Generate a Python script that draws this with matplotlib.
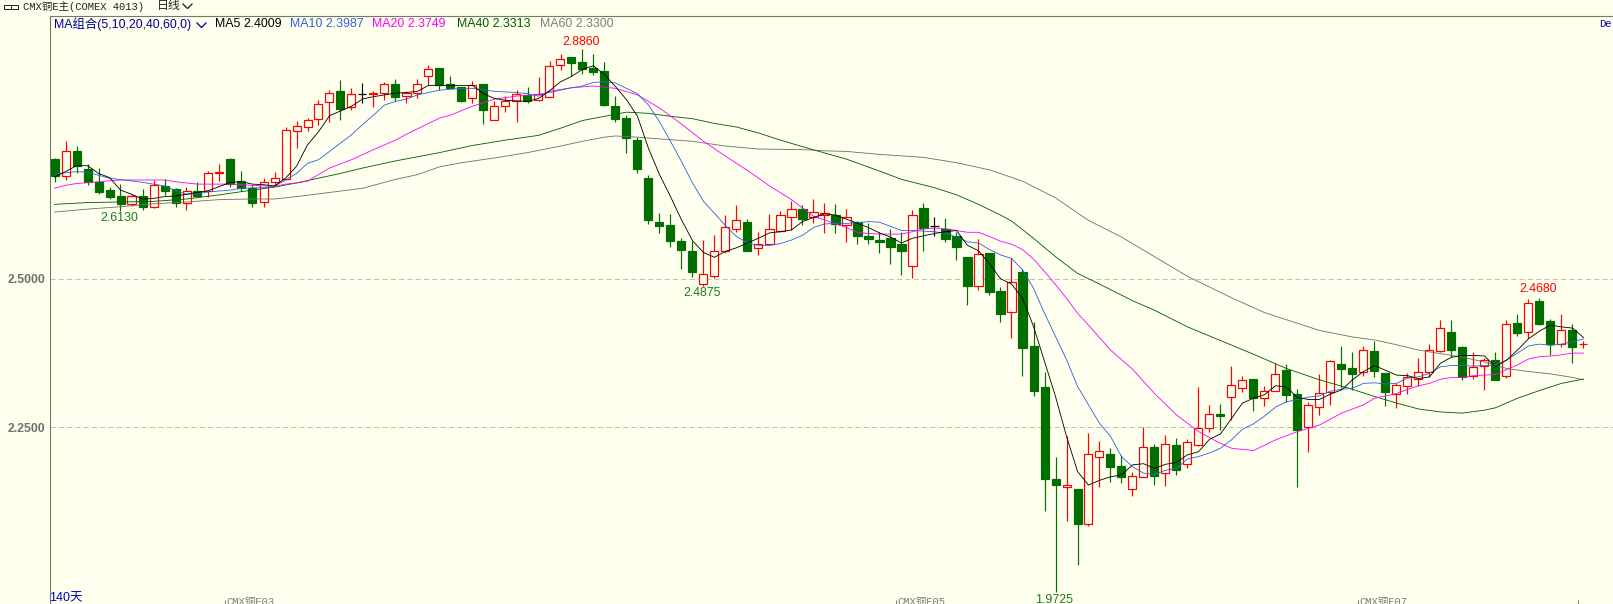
#!/usr/bin/env python3
# -*- coding: utf-8 -*-
import numpy as np
import matplotlib
matplotlib.use('Agg')
import matplotlib.pyplot as plt
from matplotlib.lines import Line2D
from matplotlib.patches import Rectangle

# daily candles, 140 days
open_p = [2.701, 2.672, 2.715, 2.685, 2.663, 2.649, 2.639, 2.626, 2.639, 2.621,
          2.656, 2.650, 2.627, 2.647, 2.647, 2.677, 2.701, 2.664, 2.652, 2.629,
          2.663, 2.667, 2.748, 2.755, 2.768, 2.797, 2.816, 2.788, 2.811, 2.811,
          2.813, 2.827, 2.808, 2.812, 2.840, 2.854, 2.827, 2.822, 2.804, 2.827,
          2.766, 2.791, 2.798, 2.809, 2.801, 2.806, 2.859, 2.873, 2.864, 2.854,
          2.849, 2.790, 2.770, 2.733, 2.670, 2.596, 2.591, 2.564, 2.547, 2.491,
          2.505, 2.547, 2.583, 2.596, 2.551, 2.558, 2.581, 2.603, 2.617, 2.604,
          2.607, 2.607, 2.591, 2.595, 2.572, 2.565, 2.568, 2.558, 2.522, 2.619,
          2.588, 2.584, 2.572, 2.537, 2.487, 2.543, 2.479, 2.444, 2.511, 2.387,
          2.318, 2.164, 2.150, 2.147, 2.087, 2.200, 2.205, 2.185, 2.146, 2.166,
          2.217, 2.173, 2.220, 2.188, 2.220, 2.249, 2.272, 2.301, 2.316, 2.332,
          2.299, 2.312, 2.347, 2.306, 2.251, 2.285, 2.309, 2.357, 2.350, 2.343,
          2.379, 2.342, 2.306, 2.320, 2.332, 2.343, 2.379, 2.410, 2.385, 2.336,
          2.354, 2.363, 2.337, 2.426, 2.411, 2.463, 2.429, 2.391, 2.414, 2.390]
close_p = [2.673, 2.714, 2.689, 2.663, 2.646, 2.638, 2.625, 2.639, 2.621, 2.657,
           2.648, 2.628, 2.647, 2.639, 2.677, 2.680, 2.660, 2.653, 2.628, 2.662,
           2.669, 2.750, 2.756, 2.766, 2.793, 2.812, 2.786, 2.810, 2.811, 2.812,
           2.827, 2.806, 2.812, 2.827, 2.852, 2.825, 2.821, 2.799, 2.825, 2.783,
           2.791, 2.798, 2.811, 2.798, 2.811, 2.857, 2.869, 2.863, 2.853, 2.848,
           2.792, 2.769, 2.736, 2.685, 2.598, 2.589, 2.563, 2.549, 2.512, 2.508,
           2.546, 2.587, 2.598, 2.547, 2.558, 2.583, 2.607, 2.617, 2.600, 2.612,
           2.610, 2.592, 2.603, 2.571, 2.566, 2.562, 2.554, 2.546, 2.607, 2.586,
           2.588, 2.567, 2.554, 2.487, 2.541, 2.478, 2.441, 2.494, 2.384, 2.312,
           2.163, 2.154, 2.153, 2.087, 2.205, 2.210, 2.183, 2.167, 2.168, 2.217,
           2.169, 2.222, 2.178, 2.225, 2.249, 2.272, 2.270, 2.321, 2.329, 2.300,
           2.311, 2.339, 2.305, 2.246, 2.287, 2.307, 2.361, 2.349, 2.340, 2.380,
           2.344, 2.310, 2.321, 2.335, 2.343, 2.380, 2.417, 2.380, 2.334, 2.352,
           2.363, 2.330, 2.423, 2.409, 2.459, 2.424, 2.391, 2.413, 2.386, 2.391]
high_p = [2.703, 2.732, 2.723, 2.693, 2.686, 2.654, 2.659, 2.643, 2.650, 2.666,
          2.667, 2.652, 2.654, 2.663, 2.681, 2.693, 2.703, 2.681, 2.658, 2.670,
          2.679, 2.755, 2.765, 2.771, 2.801, 2.817, 2.834, 2.820, 2.829, 2.816,
          2.831, 2.836, 2.816, 2.835, 2.859, 2.854, 2.841, 2.822, 2.832, 2.827,
          2.799, 2.807, 2.817, 2.822, 2.839, 2.866, 2.878, 2.873, 2.886, 2.878,
          2.864, 2.807, 2.775, 2.739, 2.675, 2.611, 2.609, 2.568, 2.564, 2.565,
          2.574, 2.607, 2.624, 2.601, 2.579, 2.609, 2.613, 2.630, 2.624, 2.634,
          2.628, 2.626, 2.618, 2.597, 2.593, 2.578, 2.583, 2.578, 2.616, 2.627,
          2.603, 2.602, 2.579, 2.537, 2.566, 2.543, 2.486, 2.534, 2.517, 2.428,
          2.343, 2.201, 2.236, 2.147, 2.240, 2.227, 2.215, 2.204, 2.175, 2.250,
          2.222, 2.237, 2.232, 2.230, 2.318, 2.288, 2.290, 2.353, 2.337, 2.332,
          2.320, 2.358, 2.357, 2.314, 2.293, 2.339, 2.363, 2.387, 2.376, 2.387,
          2.396, 2.342, 2.324, 2.341, 2.366, 2.391, 2.431, 2.431, 2.387, 2.376,
          2.366, 2.377, 2.431, 2.441, 2.466, 2.468, 2.432, 2.441, 2.424, 2.396]
low_p = [2.662, 2.666, 2.678, 2.657, 2.643, 2.634, 2.613, 2.623, 2.615, 2.619,
         2.640, 2.621, 2.616, 2.637, 2.637, 2.665, 2.655, 2.647, 2.621, 2.621,
         2.656, 2.666, 2.720, 2.748, 2.759, 2.764, 2.767, 2.783, 2.795, 2.789,
         2.801, 2.798, 2.796, 2.804, 2.825, 2.817, 2.820, 2.797, 2.796, 2.760,
         2.766, 2.780, 2.764, 2.796, 2.798, 2.806, 2.851, 2.840, 2.844, 2.843,
         2.790, 2.764, 2.712, 2.678, 2.592, 2.577, 2.553, 2.516, 2.503, 2.4875,
         2.502, 2.543, 2.578, 2.546, 2.540, 2.557, 2.579, 2.582, 2.590, 2.594,
         2.577, 2.577, 2.561, 2.558, 2.558, 2.544, 2.525, 2.506, 2.502, 2.547,
         2.571, 2.562, 2.532, 2.456, 2.481, 2.473, 2.427, 2.401, 2.336, 2.302,
         2.110, 1.9725, 2.092, 2.019, 2.084, 2.149, 2.158, 2.157, 2.135, 2.166,
         2.153, 2.151, 2.170, 2.181, 2.218, 2.243, 2.246, 2.263, 2.309, 2.277,
         2.286, 2.312, 2.293, 2.149, 2.209, 2.271, 2.288, 2.316, 2.313, 2.337,
         2.335, 2.286, 2.283, 2.306, 2.320, 2.334, 2.377, 2.368, 2.330, 2.332,
         2.313, 2.329, 2.333, 2.404, 2.400, 2.422, 2.371, 2.385, 2.359, 2.384]

# moving averages, read at the days listed
ma5 = [2.671, 2.680, 2.690, 2.690, 2.677, 2.670, 2.649, 2.642, 2.634, 2.635,
       2.638, 2.639, 2.642, 2.645, 2.648, 2.655, 2.662, 2.663, 2.659, 2.658,
       2.656, 2.669, 2.689, 2.725, 2.747, 2.774, 2.782, 2.790, 2.802, 2.806,
       2.809, 2.812, 2.813, 2.815, 2.825, 2.825, 2.825, 2.825, 2.825, 2.811,
       2.803, 2.800, 2.799, 2.798, 2.803, 2.816, 2.831, 2.840, 2.852, 2.858,
       2.843, 2.823, 2.801, 2.773, 2.719, 2.675, 2.638, 2.599, 2.564, 2.544,
       2.536, 2.546, 2.552, 2.560, 2.568, 2.577, 2.579, 2.582, 2.596, 2.603,
       2.609, 2.607, 2.600, 2.593, 2.586, 2.577, 2.570, 2.560, 2.568, 2.572,
       2.576, 2.579, 2.581, 2.556, 2.547, 2.525, 2.500, 2.491, 2.467, 2.420,
       2.361, 2.302, 2.235, 2.176, 2.153, 2.161, 2.167, 2.170, 2.187, 2.189,
       2.181, 2.188, 2.191, 2.204, 2.209, 2.230, 2.239, 2.265, 2.291, 2.299,
       2.305, 2.320, 2.318, 2.300, 2.297, 2.297, 2.306, 2.313, 2.330, 2.344,
       2.354, 2.346, 2.338, 2.337, 2.332, 2.335, 2.358, 2.368, 2.371, 2.371,
       2.370, 2.352, 2.363, 2.380, 2.399, 2.412, 2.422, 2.419, 2.417, 2.401]

ma10_idx = [0, 2, 3, 5, 8, 10, 11, 12, 13, 14, 16, 17, 19, 20, 21, 22, 23, 24, 25,
            26, 27, 28, 29, 30, 31, 32, 33, 35, 37, 38, 40, 42, 43, 44, 45, 47, 48,
            49, 50, 51, 52, 53, 54, 55, 56, 57, 58, 59, 60, 61, 62, 63, 64, 65, 66,
            67, 68, 69, 70, 71, 72, 73, 74, 75, 76, 77, 78, 79, 80, 81, 82, 83, 84,
            85, 86, 87, 88, 89, 90, 91, 92, 93, 94, 95, 96, 97, 98, 99, 100, 101,
            102, 103, 104, 105, 106, 107, 108, 109, 110, 111, 112, 113, 114, 115,
            116, 117, 118, 119, 120, 121, 122, 123, 124, 125, 126, 127, 128, 129,
            130, 131, 132, 133, 134, 135, 136, 137, 138, 139]
ma10 = [2.676, 2.680, 2.679, 2.669, 2.662, 2.656, 2.648, 2.642, 2.643, 2.646,
        2.649, 2.652, 2.653, 2.655, 2.666, 2.677, 2.694, 2.700, 2.714, 2.728,
        2.742, 2.759, 2.775, 2.792, 2.798, 2.802, 2.809, 2.817, 2.820, 2.820,
        2.815, 2.813, 2.811, 2.807, 2.815, 2.821, 2.824, 2.830, 2.831, 2.829,
        2.820, 2.811, 2.792, 2.764, 2.731, 2.697, 2.661, 2.630, 2.610, 2.589,
        2.571, 2.560, 2.556, 2.556, 2.559, 2.565, 2.573, 2.586, 2.592, 2.593,
        2.593, 2.594, 2.596, 2.595, 2.588, 2.581, 2.581, 2.580, 2.579, 2.576,
        2.570, 2.562, 2.560, 2.549, 2.540, 2.534, 2.515, 2.484, 2.442, 2.403,
        2.364, 2.319, 2.288, 2.257, 2.235, 2.201, 2.184, 2.173, 2.171, 2.178,
        2.181, 2.197, 2.201, 2.207, 2.215, 2.229, 2.247, 2.256, 2.269, 2.284,
        2.293, 2.297, 2.301, 2.303, 2.311, 2.314, 2.316, 2.324, 2.325, 2.323,
        2.324, 2.333, 2.335, 2.341, 2.352, 2.354, 2.354, 2.353, 2.354, 2.355,
        2.363, 2.375, 2.387, 2.390, 2.388, 2.390, 2.394, 2.3987]

ma20_idx = [0, 1, 2, 4, 6, 10, 11, 13, 16, 18, 20, 21, 22, 23, 25, 27, 29, 31, 32,
            35, 36, 38, 40, 42, 44, 45, 47, 49, 51, 53, 55, 57, 59, 61, 63, 65, 67,
            69, 70, 71, 72, 73, 74, 75, 76, 77, 78, 79, 80, 81, 82, 83, 84, 85, 86,
            87, 88, 89, 90, 91, 92, 93, 94, 96, 98, 100, 102, 104, 106, 107, 109,
            111, 113, 115, 117, 119, 120, 121, 122, 123, 124, 125, 126, 127, 128,
            129, 130, 131, 132, 133, 134, 135, 136, 137, 138, 139]
ma20 = [2.652, 2.657, 2.660, 2.663, 2.666, 2.666, 2.663, 2.659, 2.659, 2.657,
        2.655, 2.659, 2.661, 2.664, 2.686, 2.700, 2.717, 2.733, 2.743, 2.770,
        2.775, 2.790, 2.802, 2.807, 2.810, 2.813, 2.821, 2.824, 2.820, 2.809,
        2.787, 2.760, 2.731, 2.706, 2.682, 2.656, 2.633, 2.605, 2.599, 2.592,
        2.586, 2.578, 2.576, 2.575, 2.575, 2.575, 2.579, 2.584, 2.585, 2.584,
        2.581, 2.578, 2.578, 2.571, 2.563, 2.558, 2.549, 2.533, 2.512, 2.490,
        2.467, 2.442, 2.422, 2.380, 2.348, 2.307, 2.271, 2.243, 2.223, 2.215,
        2.211, 2.229, 2.243, 2.254, 2.274, 2.288, 2.299, 2.303, 2.307, 2.314,
        2.320, 2.324, 2.331, 2.334, 2.334, 2.337, 2.338, 2.339, 2.347, 2.355,
        2.365, 2.369, 2.370, 2.372, 2.375, 2.3749]

ma40_idx = [0, 3, 6, 9, 12, 15, 18, 20, 22, 24, 26, 28, 30, 31, 35, 38, 41, 44, 46,
            48, 50, 52, 54, 56, 58, 60, 62, 64, 66, 68, 72, 75, 77, 80, 82, 84, 86,
            87, 89, 91, 93, 95, 98, 100, 103, 106, 109, 112, 115, 118, 120, 122,
            124, 126, 128, 130, 131, 133, 135, 137, 139]
ma40 = [2.625, 2.628, 2.629, 2.630, 2.634, 2.641, 2.649, 2.654, 2.661, 2.669,
        2.677, 2.686, 2.694, 2.698, 2.712, 2.724, 2.733, 2.741, 2.753, 2.766,
        2.773, 2.780, 2.778, 2.773, 2.769, 2.761, 2.755, 2.745, 2.733, 2.722,
        2.701, 2.681, 2.667, 2.653, 2.641, 2.625, 2.607, 2.597, 2.568, 2.537,
        2.509, 2.491, 2.463, 2.447, 2.419, 2.396, 2.373, 2.349, 2.330, 2.314,
        2.302, 2.291, 2.281, 2.276, 2.274, 2.279, 2.283, 2.299, 2.312, 2.324,
        2.3313]

ma60_idx = [0, 3, 6, 9, 12, 15, 18, 20, 22, 25, 28, 31, 33, 35, 37, 40, 43, 46, 48,
            50, 51, 53, 55, 58, 61, 64, 68, 70, 72, 75, 79, 82, 85, 88, 91, 94, 97,
            100, 103, 107, 110, 115, 118, 120, 122, 124, 126, 128, 130, 132, 134,
            136, 138, 139]
ma60 = [2.612, 2.617, 2.621, 2.626, 2.629, 2.633, 2.634, 2.634, 2.638, 2.645,
        2.652, 2.667, 2.675, 2.688, 2.695, 2.703, 2.712, 2.723, 2.731, 2.738,
        2.740, 2.738, 2.735, 2.731, 2.723, 2.718, 2.717, 2.715, 2.714, 2.709,
        2.704, 2.695, 2.683, 2.664, 2.636, 2.598, 2.570, 2.537, 2.504, 2.468,
        2.443, 2.413, 2.402, 2.397, 2.389, 2.380, 2.374, 2.368, 2.360, 2.349,
        2.344, 2.340, 2.334, 2.3300]

y_ticks = [2.5, 2.25]
y_tick_labels = ['2.5000', '2.2500']
x_tick_idx = [15.5, 76.5, 118.5, 138.5]
x_tick_labels = ['CMX铜E03', 'CMX铜E05', 'CMX铜E07', '']

W, H = 1613, 604
BG = '#FFFFEE'
GREEN = '#006F00'
RED = '#FF0000'
PX = 72 / 100  # one pixel in points
MONO = ['Liberation Mono', 'Noto Sans CJK SC']
SANS = ['Liberation Sans', 'Noto Sans CJK SC']

fig = plt.figure(figsize=(W / 100, H / 100), dpi=100, facecolor=BG)
ax = fig.add_axes([49.5 / W, 0, 1 - 49.5 / W, 1 - 15.5 / H], facecolor=BG)

ax.set_xlim(-5 / 11, (W - 54.5) / 11)
ax.set_ylim(2.5 + (278.7 - H) / 594.8, 2.5 + (278.7 - 15.5) / 594.8)

for s in ['right', 'bottom']:
    ax.spines[s].set_visible(False)
for s in ['left', 'top']:
    ax.spines[s].set_color('#77776A')
    ax.spines[s].set_linewidth(PX * 1.1)

# grid and axes
ax.set_yticks(y_ticks)
ax.set_yticklabels(y_tick_labels, color='#707074', fontweight='bold', fontsize=8.8, family='Liberation Sans')
ax.tick_params(axis='y', length=0, pad=3)
ax.set_xticks(x_tick_idx)
ax.set_xticklabels([])
ax.tick_params(axis='x', direction='in', length=3, width=PX, color='#7F7F72', pad=0)
ax.xaxis.set_ticks_position('bottom')
ax.spines['bottom'].set_visible(False)
for y in y_ticks:
    ax.axhline(y, color='#C0C0BC', lw=PX, dashes=(5, 3.3), zorder=1)

for i, lab in zip(x_tick_idx, x_tick_labels):
    ax.text(i + 0.08, 0.0125, lab, transform=ax.get_xaxis_transform(), va='top', ha='left',
            color='#7A7A7A', fontsize=7.6, family=MONO, clip_on=False)

# candles
x = np.arange(len(open_p))
o = np.array(open_p)
c = np.array(close_p)
colors = [RED if c[i] > o[i] else (GREEN if c[i] < o[i] else 'black') for i in x]
ax.vlines(x, low_p, high_p, colors=colors, lw=PX * 1.2, zorder=2)
faces = [BG if col == RED else col for col in colors]
ax.bar(x, np.abs(c - o), bottom=np.minimum(o, c), width=8 / 11, facecolor=faces,
       edgecolor=colors, linewidth=PX * 1.2, zorder=3)

# moving averages
ax.plot(ma60_idx, ma60, color='#707070', lw=PX * 0.85, zorder=4)
ax.plot(ma40_idx, ma40, color='#005C00', lw=PX * 0.85, zorder=4)
ax.plot(ma20_idx, ma20, color='#FF00FF', lw=PX * 0.85, zorder=5)
ax.plot(ma10_idx, ma10, color='#2F62DD', lw=PX * 0.85, zorder=5)
ax.plot(x, ma5, color='black', lw=PX * 0.85, zorder=6)

# high and low labels
for i, val, col, off in [(48, 2.886, RED, 7.5), (6, 2.613, '#1F7A1F', -6.5),
                         (59, 2.4875, '#1F7A1F', -7), (135, 2.468, RED, 8.7),
                         (91, 1.9725, '#1F7A1F', -7.5)]:
    ax.annotate('%.4f' % val, xy=(i, val), xytext=(-1 * PX, off * PX), textcoords='offset points',
                ha='center', va='center', color=col, fontsize=8.9, family=SANS,
                annotation_clip=False, zorder=7)

ax.text(0.0, 0.0, '140天', transform=ax.transAxes, va='bottom', ha='left', color='#0000C8',
        fontsize=9, family=SANS, clip_on=False)


def fig_text(px, py, s, color, size, family):
    fig.text(px / W, 1 - py / H, s, color=color, fontsize=size, family=family, ha='left', va='center')


def chevron(px, py, color):
    fig.add_artist(Line2D([px / W, (px + 4.5) / W, (px + 9) / W],
                          [1 - py / H, 1 - (py + 4.5) / H, 1 - py / H],
                          color=color, lw=PX * 1.3, transform=fig.transFigure))


# top bar
fig_text(23, 7, 'CMX铜E主(COMEX 4013)', '#222222', 7.6, MONO)
fig_text(157, 6.5, '日线', '#222222', 8.6, SANS)
chevron(183, 4, '#222222')
for rx in [3.5, 10.5]:
    fig.add_artist(Rectangle((rx / W, 1 - 8.5 / H), 7 / W, 3.5 / H, fill=False, edgecolor='#222222',
                             lw=PX, transform=fig.transFigure))

fig_text(54, 24, 'MA组合(5,10,20,40,60,0)', '#0000A0', 8.9, SANS)
chevron(197, 23, '#0000A0')
fig_text(215, 24, 'MA5 2.4009', '#000000', 8.9, SANS)
fig_text(290, 24, 'MA10 2.3987', '#2F62DD', 8.9, SANS)
fig_text(372, 24, 'MA20 2.3749', '#FF00FF', 8.9, SANS)
fig_text(457, 24, 'MA40 2.3313', '#005C00', 8.9, SANS)
fig_text(540, 24, 'MA60 2.3300', '#7F7F7F', 8.9, SANS)
fig_text(1599.5, 24, 'De', '#0000A0', 7.6, MONO)

fig.savefig('out.png', dpi=100, facecolor=BG)
